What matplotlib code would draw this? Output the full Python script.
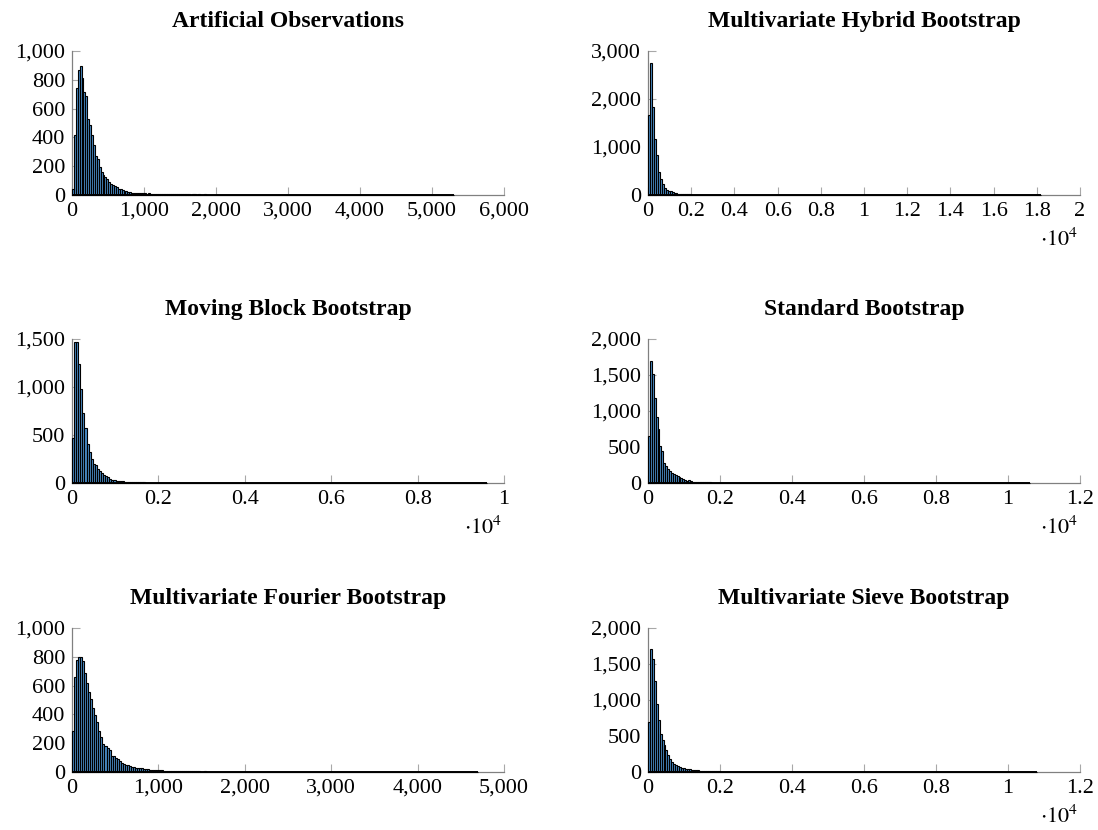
import numpy as np
import matplotlib
matplotlib.use('Agg')
import matplotlib.pyplot as plt
from matplotlib.ticker import FuncFormatter

plt.rcParams['font.family'] = ['Liberation Serif', 'DejaVu Serif']
plt.rcParams['mathtext.fontset'] = 'stix'

# bin counts (equal-width bins starting at 0)
counts_artificial = [
    40, 420, 745, 870, 895, 810, 715, 687, 531, 483, 415, 348, 274, 250, 193, 162, 137, 123, 109, 88,
    79, 72, 60, 53, 44, 39, 32, 28, 25, 21, 19, 16, 14, 14, 13, 12, 12, 11, 14, 10,
    11, 9, 10, 8, 9, 8, 7, 8, 7, 6, 7, 6, 5, 6, 5, 5, 6, 4, 5, 4,
    4, 5, 3, 4, 4, 3, 4, 3, 3, 4, 3, 2, 3, 3, 2, 3, 2, 2, 3, 2,
    2, 2, 1, 2, 2, 1, 2, 2, 1, 2, 1, 1, 2, 1, 1, 2, 1, 1, 1, 2,
    1, 1, 1, 0, 1, 1, 2, 1, 0, 1, 1, 1, 0, 1, 1, 0, 1, 1, 0, 1,
    0, 1, 1, 0, 1, 0, 0, 1, 1, 0, 1, 0, 1, 0, 0, 1, 0, 1, 0, 0,
    1, 0, 0, 1, 0, 1, 0, 0, 0, 1, 0, 0, 1, 0, 0, 0, 1, 0, 0, 1,
    0, 0, 0, 1, 0, 0, 0, 0, 1, 0, 0, 1, 0, 0, 0, 0, 0, 1, 0, 0,
    0, 0, 1, 0, 0, 0, 0, 0, 0, 1, 0, 0, 0, 0, 0, 0, 0, 0, 0, 1,
]
counts_hybrid = [
    1664, 2748, 1825, 1160, 825, 475, 335, 230, 140, 105, 90, 77, 56, 42, 35, 28, 24, 20, 17, 15,
    13, 11, 10, 9, 8, 7, 7, 6, 5, 5, 4, 4, 4, 3, 3, 3, 3, 2, 2, 2,
    2, 2, 2, 1, 2, 1, 1, 2, 1, 1, 1, 1, 2, 1, 1, 0, 1, 1, 1, 0,
    1, 1, 0, 1, 1, 0, 1, 0, 1, 1, 0, 0, 1, 0, 1, 0, 0, 1, 0, 1,
    0, 0, 1, 0, 0, 1, 0, 0, 0, 1, 0, 1, 0, 0, 0, 1, 0, 0, 1, 0,
    0, 0, 0, 1, 0, 0, 0, 0, 1, 0, 0, 0, 1, 0, 0, 0, 0, 0, 1, 0,
    0, 1, 0, 0, 0, 0, 0, 1, 0, 0, 0, 0, 0, 0, 1, 0, 0, 0, 0, 0,
    1, 0, 0, 0, 0, 0, 0, 0, 1, 0, 0, 0, 0, 0, 0, 0, 0, 1, 0, 0,
    0, 0, 0, 0, 0, 1, 0, 0, 0, 0, 0, 0, 0, 0, 0, 0, 1, 0, 0, 0,
    0, 0, 0, 0, 0, 0, 0, 0, 1, 0, 0, 0, 0, 0, 0, 0, 0, 0, 0, 1,
]
counts_moving = [
    464, 1465, 1465, 1242, 977, 725, 569, 405, 324, 255, 202, 192, 150, 126, 105, 87, 73, 59, 45, 35,
    28, 24, 21, 18, 16, 14, 12, 11, 10, 9, 8, 8, 7, 6, 6, 5, 5, 5, 4, 4,
    4, 3, 3, 3, 3, 2, 3, 2, 2, 2, 2, 1, 2, 2, 1, 1, 2, 1, 1, 1,
    1, 1, 0, 1, 1, 1, 0, 1, 1, 0, 1, 0, 1, 1, 0, 1, 0, 0, 1, 0,
    1, 0, 0, 1, 0, 1, 0, 0, 0, 1, 0, 0, 1, 0, 0, 0, 1, 0, 0, 1,
    0, 0, 1, 0, 0, 0, 1, 0, 0, 0, 0, 1, 0, 0, 0, 1, 0, 0, 0, 0,
    1, 0, 0, 0, 0, 1, 0, 0, 0, 0, 0, 0, 1, 0, 0, 0, 0, 1, 0, 0,
    0, 0, 0, 0, 1, 0, 0, 0, 0, 0, 0, 0, 1, 0, 0, 0, 0, 0, 0, 0,
    0, 1, 0, 0, 0, 0, 0, 0, 0, 0, 1, 0, 0, 0, 0, 0, 0, 0, 0, 0,
    0, 0, 0, 0, 1, 0, 0, 0, 0, 0, 0, 0, 0, 0, 0, 0, 0, 0, 0, 1,
]
counts_standard = [
    651, 1688, 1512, 1177, 912, 749, 512, 447, 279, 237, 200, 167, 144, 121, 107, 93, 84, 70, 56, 37,
    28, 47, 23, 20, 17, 15, 13, 12, 10, 9, 8, 8, 7, 6, 6, 5, 5, 4, 4, 4,
    3, 3, 4, 3, 2, 3, 2, 2, 2, 1, 2, 2, 1, 2, 1, 1, 1, 2, 1, 1,
    1, 0, 1, 1, 1, 0, 1, 1, 0, 1, 0, 1, 1, 0, 0, 1, 0, 1, 0, 0,
    1, 0, 1, 0, 0, 1, 0, 0, 1, 0, 0, 0, 1, 0, 1, 0, 0, 0, 1, 0,
    0, 1, 0, 0, 0, 0, 1, 0, 0, 1, 0, 0, 0, 0, 1, 0, 0, 0, 0, 1,
    0, 0, 0, 1, 0, 0, 0, 0, 0, 1, 0, 0, 0, 0, 0, 1, 0, 0, 0, 0,
    0, 0, 1, 0, 0, 0, 0, 0, 0, 0, 1, 0, 0, 0, 0, 0, 0, 0, 1, 0,
    0, 0, 0, 0, 0, 0, 1, 0, 0, 0, 0, 0, 0, 0, 0, 0, 0, 1, 0, 0,
    0, 0, 0, 0, 0, 0, 0, 0, 0, 1, 0, 0, 0, 0, 0, 0, 0, 0, 0, 1,
]
counts_fourier = [
    284, 663, 775, 799, 799, 770, 687, 616, 557, 509, 443, 396, 344, 284, 244, 194, 178, 166, 154, 114,
    114, 100, 90, 76, 64, 59, 52, 47, 40, 36, 33, 31, 29, 27, 25, 21, 20, 18, 17, 15,
    14, 13, 12, 13, 11, 10, 10, 9, 9, 8, 8, 7, 7, 6, 6, 6, 5, 5, 5, 4,
    4, 4, 4, 3, 3, 4, 3, 3, 3, 2, 3, 2, 2, 2, 3, 2, 2, 2, 1, 2,
    2, 1, 2, 1, 1, 2, 1, 1, 1, 2, 1, 1, 0, 1, 1, 1, 0, 1, 1, 0,
    1, 1, 0, 1, 0, 1, 1, 0, 1, 0, 0, 1, 0, 1, 0, 0, 1, 0, 0, 1,
    0, 1, 0, 0, 1, 0, 0, 0, 1, 0, 0, 1, 0, 0, 0, 1, 0, 0, 0, 1,
    0, 0, 0, 1, 0, 0, 0, 0, 1, 0, 0, 0, 0, 1, 0, 0, 0, 0, 0, 1,
    0, 0, 0, 0, 1, 0, 0, 0, 0, 0, 0, 1, 0, 0, 0, 0, 0, 0, 1, 0,
    0, 0, 0, 0, 0, 0, 1, 0, 0, 0, 0, 0, 0, 0, 0, 1, 0, 0, 0, 1,
]
counts_sieve = [
    688, 1702, 1572, 1270, 944, 721, 526, 442, 372, 302, 237, 186, 144, 116, 98, 84, 70, 60, 51, 47,
    42, 37, 33, 29, 26, 23, 20, 18, 16, 14, 12, 11, 10, 9, 8, 7, 7, 6, 5, 5,
    5, 4, 4, 3, 4, 3, 3, 2, 3, 2, 2, 2, 1, 2, 2, 1, 1, 2, 1, 1,
    1, 1, 1, 0, 1, 1, 0, 1, 1, 0, 1, 0, 1, 0, 1, 1, 0, 0, 1, 0,
    0, 1, 0, 1, 0, 0, 1, 0, 0, 1, 0, 0, 1, 0, 0, 0, 1, 0, 1, 0,
    0, 0, 1, 0, 0, 0, 0, 1, 0, 0, 1, 0, 0, 0, 0, 1, 0, 0, 0, 0,
    1, 0, 0, 0, 0, 0, 1, 0, 0, 0, 0, 0, 0, 1, 0, 0, 0, 0, 0, 0,
    0, 1, 0, 0, 0, 0, 0, 0, 0, 1, 0, 0, 0, 0, 0, 0, 0, 0, 1, 0,
    0, 0, 0, 0, 0, 0, 0, 1, 0, 0, 0, 0, 0, 0, 0, 0, 0, 0, 0, 1,
    0, 0, 0, 0, 0, 0, 0, 0, 0, 0, 0, 1, 0, 0, 0, 0, 0, 0, 0, 1,
]

titles = ['Artificial Observations', 'Multivariate Hybrid Bootstrap',
          'Moving Block Bootstrap', 'Standard Bootstrap',
          'Multivariate Fourier Bootstrap', 'Multivariate Sieve Bootstrap']
all_counts = [counts_artificial, counts_hybrid, counts_moving,
              counts_standard, counts_fourier, counts_sieve]
bin_widths = [26.5, 91, 48, 53, 23.5, 54]
x_max = [6000, 20000, 10000, 12000, 5000, 12000]
x_step = [1000, 2000, 2000, 2000, 1000, 2000]
x_scaled = [False, True, True, True, False, True]
y_max = [1000, 3000, 1500, 2000, 1000, 2000]
y_step = [200, 1000, 500, 500, 200, 500]

fig = plt.figure(figsize=(10.98, 8.3), dpi=100)

W, H = 1098, 830
col_left = [72, 648]
row_top = [51, 339, 628]
ax_w, ax_h = 432, 144

bar_color = '#4a8cc6'
axis_gray = '#808080'
tick_gray = '#a8a8a8'

for i in range(6):
    r, c = divmod(i, 2)
    ax = fig.add_axes([col_left[c] / W, 1 - (row_top[r] + ax_h) / H, ax_w / W, ax_h / H])
    counts = np.array(all_counts[i])
    w = bin_widths[i]
    edges = np.arange(len(counts)) * w
    ax.bar(edges, counts, width=w, align='edge', color=bar_color,
           edgecolor='black', linewidth=0.8, zorder=3, clip_on=False)
    # bar outlines along the base (empty / tiny bins show as a dark line)
    ax.plot([0, len(counts) * w], [0, 0], color='black', linewidth=1.4,
            zorder=3, clip_on=False, solid_capstyle='butt')

    ax.set_xlim(0, x_max[i])
    ax.set_ylim(0, y_max[i])
    ax.set_xticks(np.arange(0, x_max[i] + 1, x_step[i]))
    ax.set_yticks(np.arange(0, y_max[i] + 1, y_step[i]))
    if x_scaled[i]:
        ax.xaxis.set_major_formatter(FuncFormatter(lambda v, _: f'{v / 1e4:g}'))
        ax.text(0.995, -0.31, r'$\cdot 10^{4}$', transform=ax.transAxes,
                ha='right', va='center', fontsize=16)
    else:
        ax.xaxis.set_major_formatter(FuncFormatter(lambda v, _: f'{v:,.0f}'))
    ax.yaxis.set_major_formatter(FuncFormatter(lambda v, _: f'{v:,.0f}'))

    for side in ['top', 'right']:
        ax.spines[side].set_visible(False)
    for side in ['left', 'bottom']:
        ax.spines[side].set_color(axis_gray)
        ax.spines[side].set_linewidth(0.9)
    ax.tick_params(direction='in', length=5.5, width=0.8, color=tick_gray,
                   labelsize=16, pad=5)
    ax.set_title(titles[i], fontsize=17, fontweight='bold', pad=17)

fig.savefig('out.png', dpi=100)
